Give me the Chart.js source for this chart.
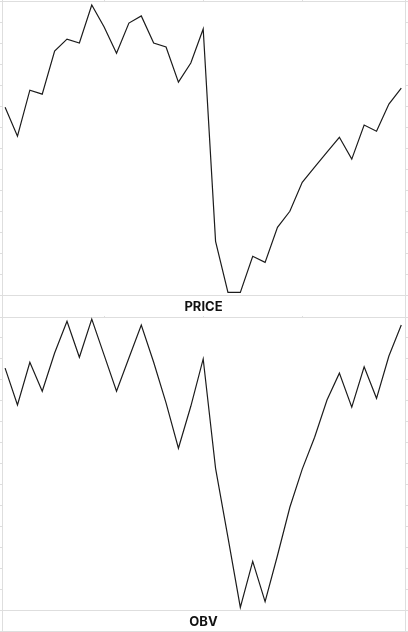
<!DOCTYPE html>
<html>
<head>
<meta charset="utf-8">
<title>Price / OBV</title>
<script src="https://cdn.jsdelivr.net/npm/chart.js@4.4.1/dist/chart.umd.min.js"></script>
<style>
  html, body { margin: 0; padding: 0; background: #fff; }
  canvas { display: block; }
</style>
</head>
<body>
<canvas id="priceChart" width="408" height="316"></canvas>
<canvas id="obvChart" width="408" height="316"></canvas>
<script>
/* ── data ─────────────────────────────────────────── */
const days = [0, 1, 2, 3, 4, 5, 6, 7, 8, 9, 10, 11, 12, 13, 14, 15, 16,
              17, 18, 19, 20, 21, 22, 23, 24, 25, 26, 27, 28, 29, 30, 31, 32];

const price = [28.95, 27.57, 29.76, 29.57, 31.62, 32.19, 32.00, 33.81, 32.76, 31.52, 32.95,
               33.29, 32.00, 31.81, 30.14, 31.05, 32.67, 22.57, 20.14, 20.14, 21.86, 21.57,
               23.24, 24.00, 25.38, 26.10, 26.81, 27.52, 26.48, 28.10, 27.81, 29.10, 29.86];

const obv = [2.98, 2.10, 3.12, 2.43, 3.34, 4.10, 3.24, 4.15, 3.29, 2.43, 3.22,
             4.01, 3.12, 2.15, 1.07, 2.07, 3.20, 0.59, -1.06, -2.73, -1.63, -2.59,
             -1.49, -0.34, 0.57, 1.33, 2.22, 2.86, 2.05, 3.01, 2.26, 3.27, 4.01];

const xTicks     = [8, 16, 24];
const priceRange = [20, 34];
const obvRange   = [-2.8, 4.2];

/* ── style ────────────────────────────────────────── */
const GRID = '#dedede';
const LINE = '#1c1c1c';

// full-height side rules (+ closing rule under the last panel)
const frame = {
  id: 'frame',
  afterDraw(chart, args, opts) {
    const { ctx, chartArea: a, width, height } = chart;
    ctx.save();
    ctx.strokeStyle = GRID;
    ctx.lineWidth = 1;
    ctx.beginPath();
    [a.left, a.right].forEach(x => {
      const px = Math.round(x) + 0.5;
      ctx.moveTo(px, 0);
      ctx.lineTo(px, height);
    });
    if (opts.bottomLine) {
      ctx.moveTo(0, height - 0.5);
      ctx.lineTo(width, height - 0.5);
    }
    ctx.stroke();
    ctx.restore();
  }
};

function panel(id, values, range, title, last) {
  const ctx = document.getElementById(id).getContext('2d');
  return new Chart(ctx, {
    type: 'line',
    data: {
      datasets: [{
        data: days.map((d, i) => ({ x: d, y: values[i] })),
        borderColor: LINE,
        borderWidth: 1.2,
        pointRadius: 0,
        tension: 0,
        fill: false,
      }],
    },
    options: {
      responsive: false,
      animation: false,
      events: [],
      layout: { padding: { left: 0, right: 0, top: 0, bottom: last ? 1 : 0 } },
      plugins: {
        legend: { display: false },
        tooltip: { enabled: false },
        frame: { bottomLine: last },
      },
      scales: {
        x: {
          type: 'linear', position: 'top',
          min: -0.25, max: 32.3,
          afterBuildTicks: s => { s.ticks = xTicks.map(v => ({ value: v })); },
          ticks: { display: false },
          grid: { drawOnChartArea: false, tickLength: 1, color: GRID },
          border: { color: GRID },
        },
        x2: {
          type: 'linear', position: 'bottom',
          min: -0.25, max: 32.3,
          ticks: { display: false },
          grid: { display: false, drawTicks: false, tickLength: 0 },
          border: { display: true, color: GRID },
          title: {
            display: true, text: title, color: '#111',
            font: { family: 'Inter, Roboto, sans-serif', size: 13, weight: 'bold' },
            padding: { top: 4, bottom: 1 },
          },
        },
        y: {
          position: 'left',
          min: range[0], max: range[1],
          ticks: { display: false, count: 15 },
          grid: { drawOnChartArea: false, tickLength: 2, color: GRID },
          border: { color: GRID },
        },
        y2: {
          position: 'right',
          min: range[0], max: range[1],
          ticks: { display: false, count: 15 },
          grid: { drawOnChartArea: false, tickLength: 3, color: GRID },
          border: { color: GRID },
        },
      },
    },
    plugins: [frame],
  });
}

panel('priceChart', price, priceRange, 'PRICE', false);
panel('obvChart', obv, obvRange, 'OBV', true);
</script>
</body>
</html>
